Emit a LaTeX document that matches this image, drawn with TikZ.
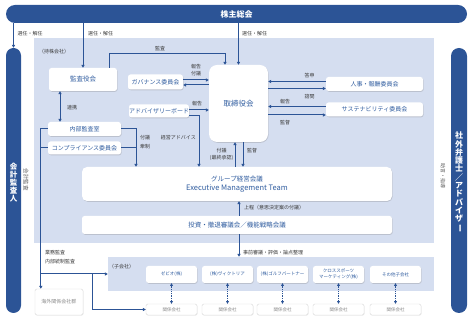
\documentclass[tikz,border=0pt]{standalone}
\usepackage{fontspec}
\setmainfont{Noto Sans CJK JP}
\usetikzlibrary{arrows.meta,shadows}
\definecolor{dblue}{HTML}{2C5496}
\definecolor{tblue}{HTML}{2F5C9F}
\definecolor{lblue}{HTML}{D5DEF0}
\definecolor{labc}{HTML}{3A3A3A}
\definecolor{gtxt}{HTML}{8A8A8A}
\definecolor{vtxt}{HTML}{5A5A5A}
\definecolor{gbord}{HTML}{D8D8D8}
\newcommand{\myfs}[2]{\fontsize{#1}{#2}\selectfont}
\begin{document}
\begin{tikzpicture}[x=1pt,y=-1pt,
  bar/.style={fill=dblue, text=white, inner sep=0pt, font=\bfseries\myfs{8}{8.3}, align=center},
  box/.style={fill=white, rounded corners=2.5pt, text=tblue, inner sep=0pt, font=\myfs{6}{7},
    drop shadow={shadow xshift=0.6pt, shadow yshift=-0.8pt, opacity=0.3}},
  sbox/.style={box, minimum width=51pt, minimum height=17pt, font=\myfs{4.5}{6}, align=center},
  rbox/.style={fill=white, draw=gbord, line width=0.4pt, rounded corners=1.5pt, text=gtxt, inner sep=0pt,
    font=\myfs{4.5}{6}, drop shadow={shadow xshift=0.5pt, shadow yshift=-0.6pt, opacity=0.15}},
  conn/.style={draw=dblue, line width=1pt},
  arr/.style={conn, -{Triangle[length=3pt,width=3.2pt]}},
  arrb/.style={conn, {Triangle[length=3pt,width=3.2pt]}-{Triangle[length=3pt,width=3.2pt]}},
  darr/.style={conn, dash pattern=on 1pt off 0.8pt, {Triangle[length=2.6pt,width=2.8pt]}-{Triangle[length=2.6pt,width=2.8pt]}},
  lab/.style={text=labc, inner sep=0pt, font=\myfs{5}{7}, align=center},
  glab/.style={text=vtxt, inner sep=0pt, font=\myfs{5.5}{7}}
]
\useasboundingbox (0,0) rectangle (474,320);
% regions
\fill[lblue] (34,38) rectangle (434,243);
\node[lab, anchor=west] (holdlab) at (39,52) {（持株会社）};
\node[fill=lblue, minimum width=326pt, minimum height=34pt, inner sep=0pt] (subreg) at (271,274) {};
\node[lab, anchor=west] (sublab) at (109,267) {（子会社）};

% bars
\node[bar, minimum width=461pt, minimum height=18pt, rounded corners=9pt] (kabu) at (236.5,14) {株主総会};
\node[bar, minimum width=15pt, minimum height=265pt, rounded corners=7.5pt] (kaikei) at (13.5,180.5) {};
\node[bar, font=\bfseries\myfs{7.5}{7.9}] (kaikeit) at (13.5,182.5) {会\\計\\監\\査\\人};
\node[bar, minimum width=16pt, minimum height=265pt, rounded corners=8pt] (bengo) at (459,180.5) {};
\node[bar] (bengot) at (459,182) {社\\外\\弁\\護\\士\\／\\ア\\ド\\バ\\イ\\ザ\\\rotatebox[origin=c]{-90}{ー}};
\node[glab, rotate=-90] (kkl) at (26,180) {会計監査};
\node[glab, rotate=-90, font=\myfs{5}{6}] (jsl) at (443,176) {助言・指導};

% boxes
\node[box, minimum width=68pt, minimum height=23pt, font=\myfs{6.5}{7}] (kansa) at (83,79.5) {監査役会};
\node[box, minimum width=59pt, minimum height=77pt, rounded corners=8pt, font=\myfs{7.5}{8}] (tor) at (238.5,103.5) {取締役会};
\node[box, minimum width=55pt, minimum height=15pt] (gov) at (155.5,82) {ガバナンス委員会};
\node[box, minimum width=60pt, minimum height=13pt] (adv) at (159,111) {アドバイザリーボード};
\node[box, minimum width=73pt, minimum height=14pt] (naibu) at (84.5,129) {内部監査室};
\node[box, minimum width=73pt, minimum height=13pt] (compl) at (84.5,148) {コンプライアンス委員会};
\node[box, minimum width=97pt, minimum height=14pt] (jinji) at (374.5,84) {人事・報酬委員会};
\node[box, minimum width=97pt, minimum height=14pt] (sust) at (374.5,109.5) {サステナビリティ委員会};
\node[box, minimum width=310pt, minimum height=34pt, rounded corners=5pt, align=center, font=\myfs{7.5}{9}] (group) at (237,184)
  {{\myfs{6.5}{9}グループ経営会議}\\Executive Management Team};
\node[box, minimum width=310pt, minimum height=18pt, font=\myfs{6.5}{7}] (toshi) at (237,225) {投資・撤退審議会／機能戦略会議};

% subsidiaries
\node[sbox] (s1) at (171.5,274.5) {ゼビオ(株)};
\node[sbox] (s2) at (227.5,274.5) {(株)ヴィクトリア};
\node[sbox] (s3) at (282.5,274.5) {(株)ゴルフパートナー};
\node[sbox] (s4) at (338.5,274.5) {クロススポーツ\\マーケティング(株)};
\node[sbox] (s5) at (395.5,274.5) {その他子会社};
\node[rbox, minimum width=51pt, minimum height=11pt] (r1) at (171.5,309.5) {関係会社};
\node[rbox, minimum width=51pt, minimum height=11pt] (r2) at (227.5,309.5) {関係会社};
\node[rbox, minimum width=51pt, minimum height=11pt] (r3) at (282.5,309.5) {関係会社};
\node[rbox, minimum width=51pt, minimum height=11pt] (r4) at (338.5,309.5) {関係会社};
\node[rbox, minimum width=51pt, minimum height=11pt] (r5) at (395.5,309.5) {関係会社};
\node[rbox, minimum width=48pt, minimum height=26pt, font=\myfs{5}{6}] (ovs) at (59,302) {海外関係会社群};
\draw[darr] (s1.south) -- (r1.north);
\draw[darr] (s2.south) -- (r2.north);
\draw[darr] (s3.south) -- (r3.north);
\draw[darr] (s4.south) -- (r4.north);
\draw[darr] (s5.south) -- (r5.north);

% shareholders arrows
\draw[arr] (kabu.south -| kaikei.north) -- (kaikei.north);
\draw[arr] (kabu.south -| kansa.north) -- (kansa.north);
\draw[arr] (kabu.south -| tor.north) -- (tor.north);
\node[lab] (l1) at (30,34) {選任・解任};
\node[lab] (l2) at (100.5,34) {選任・解任};
\node[lab] (l3) at (254.5,34) {選任・解任};

% audit
\coordinate (ka) at ([xshift=26pt]kansa.north);
\coordinate (kb) at ([xshift=-13.5pt]tor.north);
\draw[arr] (ka) -- ++(0,-14) -| (kb);
\node[lab] (l4) at (160,49) {監査};

% governance
\coordinate (g1) at ([yshift=2pt]gov.east);
\coordinate (g2) at ([yshift=-3pt]gov.east);
\draw[arr] (g1) -- (g1 -| tor.west);
\draw[arr] (g2 -| tor.west) -- (g2);
\node[lab] (l5) at (196,70.5) {報告\\付議};

% advisory
\coordinate (a0) at ([yshift=1pt]adv.east);
\draw[arr] (a0) -- (a0 -| tor.west);
\node[lab] (l6) at (197,104) {報告};
\coordinate (a1) at ([yshift=-5pt]adv.east);
\coordinate (a2) at ([xshift=-38pt]group.north);
\draw[arr] (a1) -| (a2);
\node[lab, anchor=east] (l7) at (196,138) {経営アドバイス};

% liaison
\coordinate (k1) at ([xshift=-23pt]kansa.south);
\draw[arrb] (k1) -- (k1 |- naibu.north);
\node[lab] (l8) at (72,108) {連携};

% internal audit / compliance to group
\coordinate (n1) at ([xshift=-101pt]group.north);
\draw[arr] (naibu.east) -| (n1);
\draw[conn] (compl.east) -- (compl.east -| n1);
\node[lab] (l9) at (145,138) {付議};
\node[lab] (l10) at (145,147) {牽制};

% left vertical
\coordinate (lv) at ([xshift=-7pt]naibu.west);
\draw[arr] (naibu.west) -- (lv) -- (lv |- ovs.north);
\draw[conn] (compl.west) -- (compl.west -| lv);
\coordinate (lb) at (lv |- subreg.west);
\draw[arr] (lb) -- (subreg.west);
\coordinate (lc) at ([xshift=-15pt]subreg.west);
\draw[arr] (lc) |- (r1.west);
\node[lab, anchor=west] (l11) at (45,253) {業務監査};
\node[lab, anchor=west] (l12) at (45,262) {内部統制監査};

% right committees
\coordinate (j1) at ([yshift=2.5pt]jinji.west);
\coordinate (j2) at ([yshift=-4.5pt]jinji.west);
\draw[arr] (j1) -- (j1 -| tor.east);
\draw[arr] (j2 -| tor.east) -- (j2);
\node[lab] (l13) at (309.5,76) {答申};
\node[lab] (l14) at (309.5,97) {諮問};
\coordinate (u1) at ([yshift=3pt]sust.west);
\coordinate (u2) at ([yshift=-5.5pt]sust.west);
\draw[arr] (u1) -- (u1 -| tor.east);
\draw[arr] (u2 -| tor.east) -- (u2);
\node[lab] (l15) at (285,102) {報告};
\node[lab] (l16) at (285,123) {監督};

% board <-> group
\coordinate (t1) at ([xshift=-3.5pt]tor.south);
\coordinate (t2) at ([xshift=4.5pt]tor.south);
\draw[arr] (t1 |- group.north) -- (t1);
\draw[arr] (t2) -- (t2 |- group.north);
\node[lab] (l17) at (221.5,154.5) {付議\\(最終承認)};
\node[lab] (l18) at (252,151) {監督};

% investment council
\coordinate (p1) at ([xshift=2pt]toshi.north);
\draw[arr] (p1) -- (p1 |- group.south);
\node[lab, anchor=west] (l19) at (244,208) {上程（意思決定案の付議）};
\coordinate (p2) at ([xshift=2pt]toshi.south);
\draw[arr] (p2) -- (p2 |- subreg.north);
\node[lab, anchor=west] (l20) at (243,253) {事前審議・評価・論点整理};
\end{tikzpicture}
\end{document}
